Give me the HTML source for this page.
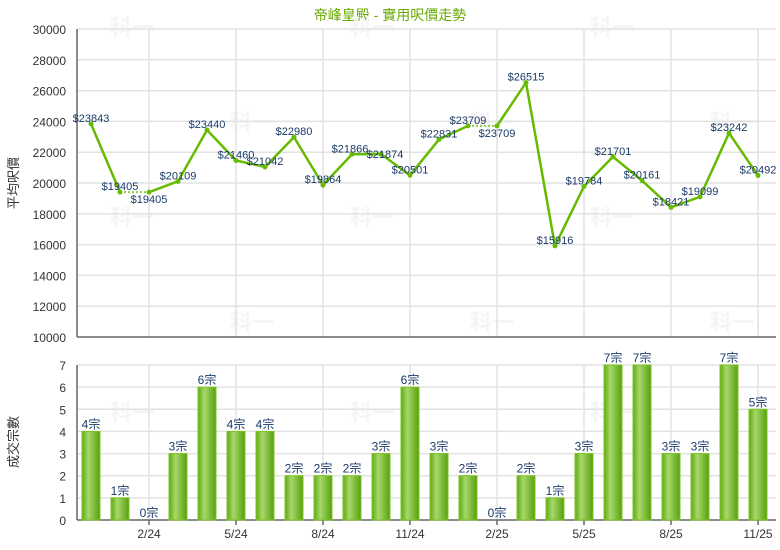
<!DOCTYPE html>
<html><head><meta charset="utf-8"><style>
body{margin:0;background:#fff;}
svg{display:block;font-family:"Liberation Sans","Noto Sans CJK TC",sans-serif;}
</style></head><body>
<svg width="780" height="550" viewBox="0 0 780 550" xmlns="http://www.w3.org/2000/svg">
<defs>
<linearGradient id="bg" x1="0" x2="1" y1="0" y2="0">
<stop offset="0" stop-color="#5fa814"/><stop offset="0.35" stop-color="#a6d86a"/><stop offset="1" stop-color="#58a010"/>
</linearGradient>
</defs>
<rect width="780" height="550" fill="#fff"/>
<text x="390" y="20" text-anchor="middle" font-size="14" fill="#66aa00">帝峰皇殿 - 實用呎價走勢</text>
<g id="wm" font-size="22" font-weight="bold" fill="#f5f5f5">
<text x="110" y="35">科一</text><text x="230" y="130">科一</text><text x="350" y="35">科一</text><text x="110" y="225">科一</text>
<text x="590" y="35">科一</text><text x="590" y="225">科一</text><text x="710" y="130">科一</text><text x="470" y="130">科一</text>
<text x="230" y="330">科一</text><text x="350" y="225">科一</text><text x="470" y="330">科一</text><text x="710" y="330">科一</text>
<text x="110" y="420">科一</text><text x="350" y="420">科一</text><text x="590" y="420">科一</text>
</g>
<g stroke="#e2e2e2" stroke-width="1.5" id="grid"></g>
<g id="ax" stroke="#666" stroke-width="1.5">
<line x1="77" y1="29" x2="77" y2="337"/><line x1="77" y1="337" x2="776" y2="337"/>
<line x1="77" y1="365" x2="77" y2="520"/><line x1="77" y1="520" x2="776" y2="520"/>
</g>
<g id="ticks" font-size="12" fill="#333"></g>
<text transform="translate(18,183) rotate(-90)" text-anchor="middle" font-size="13" fill="#333">平均呎價</text>
<text transform="translate(18,442) rotate(-90)" text-anchor="middle" font-size="13" fill="#333">成交宗數</text>
<g id="bars"></g>
<g id="line"></g>
</svg>
<script>
var P=[23843,19405,19405,20109,23440,21460,21042,22980,19864,21866,21874,20501,22831,23709,23709,26515,15916,19784,21701,20161,18421,19099,23242,20492];
var C=[4,1,0,3,6,4,4,2,2,2,3,6,3,2,0,2,1,3,7,7,3,3,7,5];
var NS="http://www.w3.org/2000/svg";
function el(p,t,a,txt){var e=document.createElementNS(NS,t);for(var k in a)e.setAttribute(k,a[k]);if(txt!=null)e.textContent=txt;document.getElementById(p).appendChild(e);return e;}
function X(i){return 91+29*i;}
function Y(v){return 337-(v-10000)*0.0154;}
function YB(c){return 520-c*155/7;}
for(var v=12000;v<=30000;v+=2000)el("grid","line",{x1:77,x2:776,y1:Y(v),y2:Y(v)});
for(var c=1;c<=7;c++)el("grid","line",{x1:77,x2:776,y1:YB(c),y2:YB(c)});
var lab=["2/24","5/24","8/24","11/24","2/25","5/25","8/25","11/25"];
for(var j=0;j<8;j++){var x=X(2+3*j);el("grid","line",{x1:x,x2:x,y1:29,y2:337});el("grid","line",{x1:x,x2:x,y1:365,y2:520});
el("ticks","text",{x:x,y:538,"text-anchor":"middle"},lab[j]);el("ax","line",{x1:x,x2:x,y1:520,y2:525});}
for(var v=10000;v<=30000;v+=2000)el("ticks","text",{x:66,y:Y(v)+5,"text-anchor":"end"},v);
for(var c=0;c<=7;c++)el("ticks","text",{x:66,y:YB(c)+5,"text-anchor":"end"},c);
for(var i=0;i<24;i++){var x=X(i);
if(C[i]>0)el("bars","rect",{x:x-9,y:YB(C[i]),width:18,height:520-YB(C[i]),fill:"url(#bg)",stroke:"#7cc520","stroke-width":1});
el("bars","text",{x:x,y:YB(C[i])-3,"text-anchor":"middle","font-size":"12",fill:"#1a3a6a"},C[i]+"宗");}
for(var i=0;i<23;i++){var dot=(i==1||i==13);
el("line","line",{x1:X(i),y1:Y(P[i]),x2:X(i+1),y2:Y(P[i+1]),stroke:dot?"#8fd040":"#66bb00","stroke-width":dot?2:2.5,"stroke-dasharray":dot?"2,2":"none"});}
for(var i=0;i<24;i++){el("line","circle",{cx:X(i),cy:Y(P[i]),r:2.5,fill:"#66bb00"});
var below=(i==2||i==14);var dx=(i==9?-2:(i==10?4:0));var dy=(i==10?6:0);
el("line","text",{x:X(i)+dx,y:(below?Y(P[i])+11:Y(P[i])-2)+dy,"text-anchor":"middle","font-size":"11",fill:"#1a3a6a"},"$"+P[i]);}
</script>
</body></html>
